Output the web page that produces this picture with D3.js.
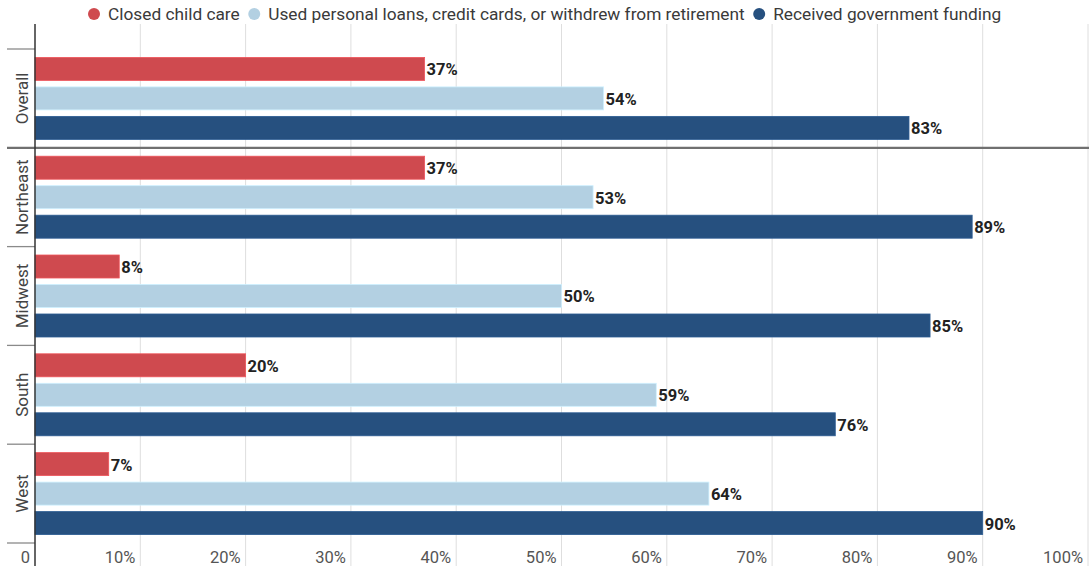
<!DOCTYPE html>
<html>
<head>
<meta charset="utf-8">
<script src="https://cdn.jsdelivr.net/npm/d3@7"></script>
<style>
  html, body { margin: 0; padding: 0; background: #fff; }
  svg { display: block; font-family: Roboto, "Noto Sans", sans-serif; }
</style>
</head>
<body>
<svg id="chart" width="1089" height="566"></svg>
<script>
// Regions shown as groups of horizontal bars
const regions = ["Overall", "Northeast", "Midwest", "South", "West"];

// One entry per series, in drawing order inside each group
const seriesNames = [
  "Closed child care",
  "Used personal loans, credit cards, or withdrew from retirement",
  "Received government funding"
];
const seriesColors = ["#cf4a4f", "#b3d0e2", "#26507f"];

// Shares of providers (%) per region, same order as `regions`
const closedChildCare   = [37, 37, 8, 20, 7];
const usedPersonalFunds = [54, 53, 50, 59, 64];
const governmentFunding = [83, 89, 85, 76, 90];

// Axis ticks and their labels
const xTicks = [0, 10, 20, 30, 40, 50, 60, 70, 80, 90, 100];
const xTickLabels = ["0", "10%", "20%", "30%", "40%", "50%", "60%", "70%", "80%", "90%", "100%"];

const seriesValues = [closedChildCare, usedPersonalFunds, governmentFunding];

const svg = d3.select("#chart");
const W = 1089, H = 566;

const x = d3.scaleLinear().domain([0, 100]).range([35, 1088]);
const y0 = d3.scaleBand().domain(regions).range([49, 543]).padding(0);
const y1 = d3.scaleBand().domain(d3.range(seriesNames.length))
  .range([0, y0.bandwidth()]).paddingInner(0.22).paddingOuter(0.285);

// Vertical gridlines
svg.append("g").selectAll("line").data(xTicks.slice(1)).join("line")
  .attr("x1", d => x(d)).attr("x2", d => x(d))
  .attr("y1", 24).attr("y2", H)
  .attr("stroke", "#dedede").attr("stroke-width", 1);

// Bars
const groups = svg.append("g").selectAll("g").data(regions).join("g")
  .attr("transform", d => `translate(0,${y0(d)})`);

groups.each(function(region, ri) {
  const g = d3.select(this);
  seriesValues.forEach((vals, si) => {
    const v = vals[ri];
    g.append("rect")
      .attr("x", x(0)).attr("y", y1(si))
      .attr("width", x(v) - x(0)).attr("height", y1.bandwidth())
      .attr("fill", seriesColors[si])
      .attr("stroke", d3.color(seriesColors[si]).brighter(0.4))
      .attr("stroke-width", 0.8);
    g.append("text")
      .attr("x", x(v) + 2).attr("y", y1(si) + y1.bandwidth() / 2 + 1)
      .attr("dominant-baseline", "central")
      .attr("font-size", 16.5).attr("font-weight", 700).attr("fill", "#222")
      .text(v + "%");
  });
});

// Category ticks on the left
svg.append("g").selectAll("line").data(y0.domain().map(d => y0(d)).concat([y0.range()[1]]))
  .join("line")
  .attr("x1", 7).attr("x2", 35)
  .attr("y1", d => d).attr("y2", d => d)
  .attr("stroke", "#8a8a8a").attr("stroke-width", 1.3);

// Separator between the overall figure and the regions
svg.append("line")
  .attr("x1", 7).attr("x2", W)
  .attr("y1", y0("Northeast")).attr("y2", y0("Northeast"))
  .attr("stroke", "#707070").attr("stroke-width", 2.2);

// Category labels
svg.append("g").selectAll("text").data(regions).join("text")
  .attr("transform", d => `translate(28,${y0(d) + y0.bandwidth() / 2}) rotate(-90)`)
  .attr("text-anchor", "middle")
  .attr("font-size", 17).attr("fill", "#444")
  .text(d => d);

// Value axis line
svg.append("line")
  .attr("x1", x(0)).attr("x2", x(0)).attr("y1", 24).attr("y2", H)
  .attr("stroke", "#333").attr("stroke-width", 1.5);

// X tick labels, right-aligned to their gridline
svg.append("g").selectAll("text").data(xTicks).join("text")
  .attr("x", d => x(d) - 5).attr("y", 563)
  .attr("text-anchor", "end")
  .attr("font-size", 16.5).attr("fill", "#555")
  .text((d, i) => xTickLabels[i]);

// Legend
const legend = svg.append("g");
let cx = 94;
seriesNames.forEach((name, i) => {
  legend.append("circle").attr("cx", cx).attr("cy", 14).attr("r", 6)
    .attr("fill", seriesColors[i]);
  const t = legend.append("text").attr("x", cx + 14).attr("y", 19.5)
    .attr("font-size", 17.3).attr("fill", "#3a3a3a").text(name);
  const w = t.node().getComputedTextLength();
  cx = cx + 14 + w + 14.5;
});
</script>
</body>
</html>
